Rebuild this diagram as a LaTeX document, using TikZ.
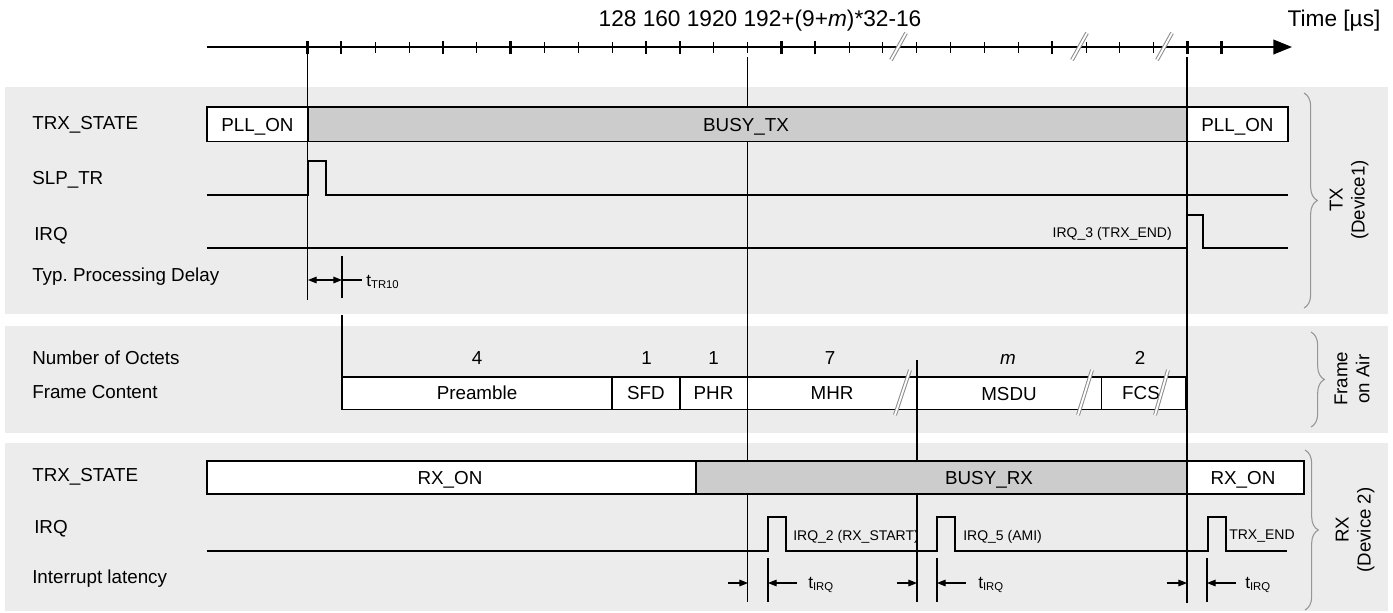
\documentclass[tikz,border=0pt]{standalone}
\usepackage{fontspec}
\setmainfont{Liberation Sans}
\usetikzlibrary{arrows.meta,decorations.pathreplacing}
\definecolor{band}{RGB}{236,236,236}
\definecolor{busy}{RGB}{204,204,204}
\definecolor{slashc}{RGB}{140,140,140}
\definecolor{bracec}{RGB}{150,150,150}
\begin{document}
\begin{tikzpicture}[x=0.75pt,y=-0.75pt,
  lbl/.style={font=\fontsize{14.1}{16}\selectfont, inner sep=0pt, text height=10pt, text depth=0pt},
  sml/.style={font=\fontsize{10.5}{12}\selectfont, inner sep=0pt, text height=7.5pt, text depth=0pt},
  big/.style={font=\fontsize{17}{20}\selectfont, inner sep=0pt, text height=12.2pt, text depth=0pt},
  rot/.style={font=\fontsize{14}{16.5}\selectfont, inner sep=0pt, rotate=90, align=center},
  tsub/.style={font=\fontsize{13}{15}\selectfont, inner sep=0pt, anchor=west},
  sig/.style={line width=1.2pt, line join=miter},
  boxw/.style={draw, line width=1.3pt, fill=white},
  boxg/.style={draw, line width=1.3pt, fill=busy},
  divider/.style={line width=0.9pt},
  vline/.style={line width=0.8pt},
  tickthin/.style={line width=0.8pt},
  tickbold/.style={line width=1.7pt},
  brk/.style={draw=slashc, line width=0.75pt, double=white, double distance=1.4pt},
  arr/.style={-{Triangle[length=6.5pt,width=5pt]}, line width=0.8pt},
  darr/.style={{Triangle[length=6.5pt,width=5pt]}-{Triangle[length=6.5pt,width=5pt]}, line width=0.8pt},
  bracestyle/.style={draw=bracec, line width=0.8pt, decorate, decoration={brace, amplitude=10pt}},
]
\useasboundingbox (0,0) rectangle (1393,612);
\fill[white] (0,0) rectangle (1393,612);
% bands
\fill[band] (5,87) rectangle (1388,314);
\fill[band] (5,326) rectangle (1388,433);
\fill[band] (5,443) rectangle (1388,611);

% time reference lines (behind the boxes)
\draw[vline] (307.5,53) -- (307.5,300);
\draw[vline] (747.5,57) -- (747.5,602);
\draw[vline] (1187,57) -- (1187,603);
\draw[vline] (917,360) -- (917,602);

% time axis
\coordinate (axs) at (207,47);
\coordinate (axe) at (1292,47);
\draw[line width=1.3pt, -{Triangle[length=14pt,width=11pt]}] (axs) -- (axe);
\foreach \k in {0,...,27}{\draw[tickthin] ({307.5+33.85*\k},42) -- ({307.5+33.85*\k},53);}
\foreach \k in {0,1,4,6,10,11,14,15,22,26,27}{\draw[tickbold] ({307.5+33.85*\k},41) -- ({307.5+33.85*\k},54);}
\draw[brk] (891,60) -- (906,33);
\draw[brk] (1072,60) -- (1087,33);
\draw[brk] (1157,60) -- (1172,33);
\node[big] (nums) at (760,18) {128 160 1920 192+(9+\textit{m})*32-16};
\node[big] (time) at (1334,18) {Time [µs]};

% TX section
\node[lbl, anchor=west] (ltxs) at (32,123) {TRX\_STATE};
\node[lbl, anchor=west] (lslp) at (32,178) {SLP\_TR};
\node[lbl, anchor=west] (ltxi) at (34,234) {IRQ};
\node[lbl, anchor=west] (ltyp) at (32,275) {Typ.\ Processing Delay};
\draw[boxw] (207,107) rectangle (308,141.5);
\draw[boxg] (308,107) rectangle (1187,141.5);
\draw[boxw] (1187,107) rectangle (1288,141.5);
\node[lbl] (pll1) at (257.5,124.5) {PLL\_ON};
\node[lbl] (btx) at (746,124.5) {BUSY\_TX};
\node[lbl] (pll2) at (1237.5,124.5) {PLL\_ON};
\draw[sig] (207,195) -- (308,195) -- (308,161) -- (326,161) -- (326,195) -- (1288,195);
\draw[sig] (207,248) -- (1187,248) -- (1187,215) -- (1203,215) -- (1203,248) -- (1288,248);
\node[sml, anchor=east] (irq3) at (1172,232) {IRQ\_3 (TRX\_END)};
\coordinate (d0) at (308,280);
\coordinate (d1) at (342,280);
\draw[darr] (d0) -- (d1);
\draw[vline] (342,256) -- (342,298);
\draw[vline] (d1) -- (362,280);
\node[tsub] (ttr) at (366,282) {t\textsubscript{\fontsize{8.5}{9}\selectfont TR10}};
\node[rot] (txlab) at (1349,200) {TX\\(Device1)};
\draw[bracestyle] (1304,93) -- (1304,308);

% Frame on air
\node[lbl, anchor=west] (loct) at (32,358) {Number of Octets};
\node[lbl, anchor=west] (lfc) at (32,392) {Frame Content};
\draw[vline] (342,315) -- (342,377);
\draw[boxw] (342,377) rectangle (1186,409.5);
\foreach \xx in {612,680,747.5,917,1101.5}{\draw[divider] (\xx,377) -- (\xx,409.5);}
\node[lbl] (o1) at (477,358) {4};
\node[lbl] (o2) at (646.5,358) {1};
\node[lbl] (o3) at (713.5,358) {1};
\node[lbl] (o4) at (830,358) {7};
\node[lbl] (o5) at (1008,358) {\textit{m}};
\node[lbl] (o6) at (1140,358) {2};
\node[lbl] (fpre) at (477,393) {Preamble};
\node[lbl] (fsfd) at (646,393) {SFD};
\node[lbl] (fphr) at (713.5,393) {PHR};
\node[lbl] (fmhr) at (832,393) {MHR};
\node[lbl] (fmsdu) at (1009,394) {MSDU};
\node[lbl] (ffcs) at (1141,393) {FCS};
\draw[brk] (895,415) -- (910,370);
\draw[brk] (1078,415) -- (1092,370);
\draw[brk] (1155,415) -- (1168,370);
\node[rot] (frlab) at (1352,379) {Frame\\on Air};
\draw[bracestyle] (1311,332) -- (1311,427);

% RX section
\node[lbl, anchor=west] (lrxs) at (32,475) {TRX\_STATE};
\node[lbl, anchor=west] (lrxi) at (34,527) {IRQ};
\node[lbl, anchor=west] (llat) at (32,577) {Interrupt latency};
\draw[boxw] (207,461) rectangle (696,494);
\draw[boxg] (696,461) rectangle (1187,494);
\draw[boxw] (1187,461) rectangle (1304,494);
\node[lbl] (rxon1) at (450,478) {RX\_ON};
\node[lbl] (brx) at (989,478) {BUSY\_RX};
\node[lbl] (rxon2) at (1243,478) {RX\_ON};
\draw[sig] (207,551) -- (768,551) -- (768,517) -- (786,517) -- (786,551) -- (937,551) -- (937,517) -- (955,517) -- (955,551) -- (1208,551) -- (1208,517) -- (1226,517) -- (1226,551) -- (1287,551);
\node[sml, anchor=west] (irq2) at (793,535) {IRQ\_2 (RX\_START)};
\node[sml, anchor=west] (irq5) at (963,535) {IRQ\_5 (AMI)};
\node[sml, anchor=west] (trxend) at (1229,534) {TRX\_END};
% latencies
\foreach \a/\b/\n in {748/768/la, 917/937/lb, 1187/1207/lc}{
  \coordinate (\n1) at (\a,583);
  \coordinate (\n2) at (\b,583);
  \draw[arr] ({\a-20},583) -- (\n1);
  \draw[vline] (\b,558) -- (\b,602);
  \draw[arr] ({\b+29},583) -- (\n2);
}
\node[tsub] (ti1) at (808,585) {t\textsubscript{\fontsize{8.5}{9}\selectfont IRQ}};
\node[tsub] (ti2) at (978,585) {t\textsubscript{\fontsize{8.5}{9}\selectfont IRQ}};
\node[tsub] (ti3) at (1245,585) {t\textsubscript{\fontsize{8.5}{9}\selectfont IRQ}};
\node[rot] (rxlab) at (1355,530) {RX\\(Device 2)};
\draw[bracestyle] (1305,450) -- (1305,610);
\end{tikzpicture}
\end{document}
